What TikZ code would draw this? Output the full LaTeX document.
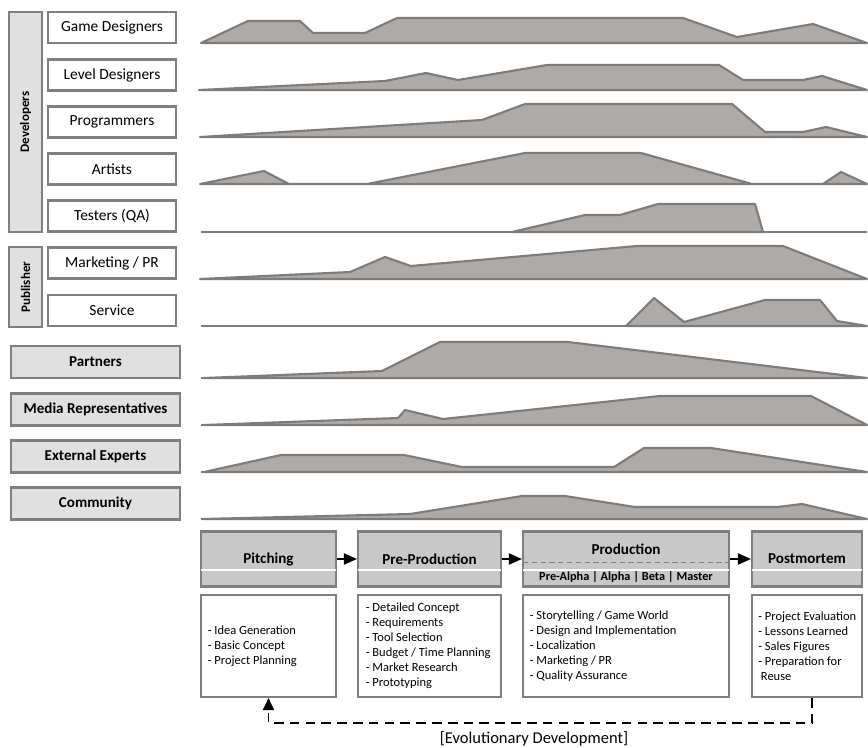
\documentclass[tikz,border=0pt]{standalone}
\usepackage{fontspec}
\setmainfont{Carlito}
\usetikzlibrary{arrows.meta}

\definecolor{framegray}{HTML}{7F7F7F}
\definecolor{groupfill}{HTML}{E0E0E0}
\definecolor{phasefill}{HTML}{C8C8C8}
\definecolor{effortfill}{HTML}{AEAAA8}
\definecolor{effortline}{HTML}{7F7B78}

\tikzset{
  boxframe/.style={draw=framegray, line width=1.2pt, inner sep=0pt},
  group/.style={boxframe, fill=groupfill, rotate=90, minimum height=0.66cm, font=\bfseries\fontsize{7.4}{9}\selectfont},
  role/.style={boxframe, fill=white, minimum width=2.56cm, minimum height=0.62cm, font=\fontsize{8.8}{10}\selectfont},
  party/.style={boxframe, fill=groupfill, minimum width=3.38cm, minimum height=0.64cm, font=\bfseries\fontsize{8.6}{10}\selectfont},
  phase/.style={boxframe, fill=phasefill, minimum height=1.1cm, font=\bfseries\fontsize{8.6}{10}\selectfont},
  detail/.style={boxframe, fill=white, minimum height=2.04cm},
  items/.style={anchor=west, align=left, inner sep=0pt, font=\fontsize{7.1}{8.5}\selectfont},
  effort/.style={fill=effortfill, draw=effortline, line width=1.2pt, line join=round},
  axisline/.style={draw=effortline, line width=1.5pt},
  flow/.style={line width=1.1pt, -{Triangle[length=0.26cm,width=0.22cm]}},
  feedback/.style={line width=1.1pt, dash pattern=on 5.5pt off 3.5pt, -{Triangle[length=0.24cm,width=0.22cm]}},
}

\begin{document}
\begin{tikzpicture}[x=0.02cm, y=-0.02cm]
  \useasboundingbox (0,0) rectangle (868,747);

  \node[group, minimum width=4.4cm] (dev) at (25.5,122) {Developers};
  \node[group, minimum width=1.6cm] (pub) at (25.5,287) {Publisher};

  \node[role] (gd) at (112,27.5) {Game Designers};
  \node[role] (ld) at (112,75) {Level Designers};
  \node[role] (pr) at (112,122) {Programmers};
  \node[role] (ar) at (112,169) {Artists};
  \node[role] (qa) at (112,216) {Testers (QA)};
  \node[role] (mk) at (112,263) {Marketing / PR};
  \node[role] (sv) at (112,310.5) {Service};

  \node[party] (pa) at (95.5,362) {Partners};
  \node[party] (me) at (95.5,409.5) {Media Representatives};
  \node[party] (ex) at (95.5,456.5) {External Experts};
  \node[party] (co) at (95.5,503.5) {Community};

  \filldraw[effort] (201,43) -- (248,21) -- (300,21) -- (313,33) -- (365,33) -- (397,18) -- (683,18) -- (737,37) -- (813,24) -- (867,43) -- cycle;
  \filldraw[effort] (199,90) -- (385,81) -- (426,73) -- (458,80) -- (547,65) -- (719,65) -- (743,80) -- (803,80) -- (822,76) -- (867,90) -- cycle;
  \filldraw[effort] (200,137) -- (482,120) -- (525,104) -- (732,104) -- (765,132) -- (803,132) -- (826,127) -- (867,137) -- cycle;
  \filldraw[effort] (200,184) -- (264,171) -- (289,184) -- (367,184) -- (525,153) -- (641,153) -- (752,184) -- (823,184) -- (841,172) -- (867,184) -- cycle;
  \filldraw[effort] (512,232) -- (585,215) -- (620,215) -- (658,204) -- (755,204) -- (763,232) -- cycle;
  \filldraw[effort] (200,279) -- (350,272) -- (385,257) -- (411,266) -- (637,246) -- (783,246) -- (867,279) -- cycle;
  \filldraw[effort] (626,326) -- (654,298) -- (684,322) -- (765,300) -- (820,300) -- (837,321) -- (867,326) -- cycle;
  \filldraw[effort] (204,378) -- (382,371) -- (440,342) -- (568,342) -- (867,378) -- cycle;
  \filldraw[effort] (204,425) -- (398,418) -- (405,410) -- (443,419) -- (660,396) -- (811,396) -- (867,425) -- cycle;
  \filldraw[effort] (204,472) -- (281,455) -- (404,455) -- (462,467) -- (614,467) -- (644,448) -- (711,448) -- (867,472) -- cycle;
  \filldraw[effort] (202,519) -- (410,514) -- (522,496) -- (565,496) -- (635,507) -- (777,507) -- (802,504) -- (867,519) -- cycle;
  \foreach \y in {43,90,137,184,232,279,326,378,425,472,519}
    \draw[axisline] (201,\y) -- (867,\y);

  \node[phase, minimum width=2.7cm] (pitch) at (268.5,559) {Pitching};
  \node[phase, minimum width=2.86cm] (pre) at (429.5,559) {Pre-Production};
  \node[phase, minimum width=4.12cm] (prod) at (626,559) {};
  \node[phase, minimum width=2.2cm] (post) at (807,559) {Postmortem};
  \foreach \p in {pitch,pre,prod,post}
    \draw[white, line width=0.7pt] ([xshift=0.6pt,yshift=-0.22cm]\p.west) -- ([xshift=-0.6pt,yshift=-0.22cm]\p.east);
  \draw[framegray, line width=0.9pt, dash pattern=on 3pt off 2pt] ([xshift=0.6pt,yshift=-0.066cm]prod.west) -- ([xshift=-0.6pt,yshift=-0.066cm]prod.east);
  \node[font=\bfseries\fontsize{8.6}{10}\selectfont] (prodtitle) at (626,549) {Production};
  \node[font=\bfseries\fontsize{7}{8}\selectfont] (prodsteps) at (626,577) {Pre-Alpha | Alpha | Beta | Master};

  \draw[flow] (pitch) -- (pre);
  \draw[flow] (pre) -- (prod);
  \draw[flow] (prod) -- (post);

  \node[detail, minimum width=2.7cm] (pitchbox) at (268.5,646) {};
  \node[detail, minimum width=2.86cm] (prebox) at (429.5,646) {};
  \node[detail, minimum width=4.12cm] (prodbox) at (626,646) {};
  \node[detail, minimum width=2.2cm] (postbox) at (807,646) {};
  \node[items] (pitchitems) at ([xshift=0.15cm]pitchbox.west) {- Idea Generation\\- Basic Concept\\- Project Planning};
  \node[items] (preitems) at ([xshift=0.17cm]prebox.west) {- Detailed Concept\\- Requirements\\- Tool Selection\\- Budget / Time Planning\\- Market Research\\- Prototyping};
  \node[items] (proditems) at ([xshift=0.15cm]prodbox.west) {- Storytelling / Game World\\- Design and Implementation\\- Localization\\- Marketing / PR\\- Quality Assurance};
  \node[items] (postitems) at ([xshift=0.14cm]postbox.west) {- Project Evaluation\\- Lessons Learned\\- Sales Figures\\- Preparation for\\\hspace{1.5pt}Reuse};

  \draw[feedback] ([xshift=0.1cm]postbox.south) -- ++(0,25) -| (pitchbox.south);
  \node[font=\fontsize{9.4}{11}\selectfont] (evo) at (534,739) {[Evolutionary Development]};
\end{tikzpicture}
\end{document}
